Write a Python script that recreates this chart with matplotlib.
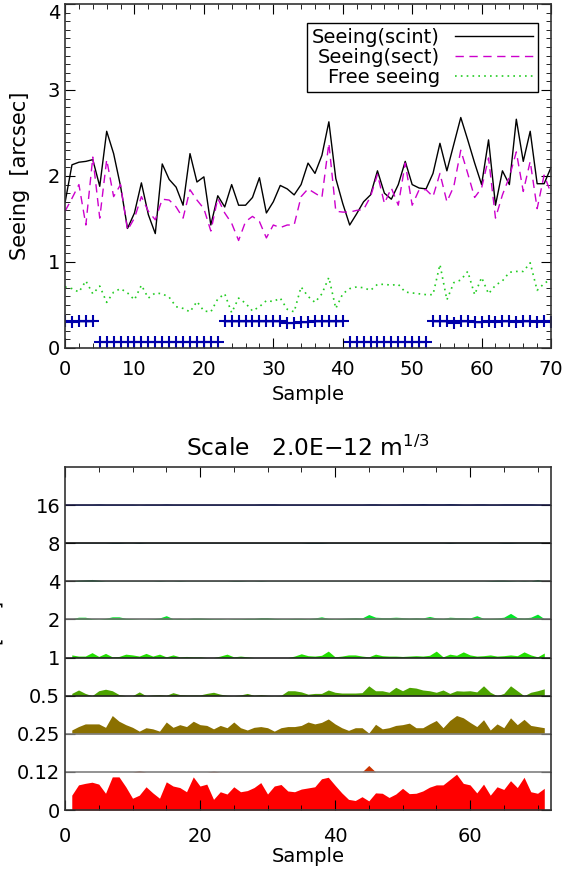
import matplotlib.pyplot as plt
import numpy as np
from matplotlib.ticker import MultipleLocator

plt.rcParams['font.family'] = ['DejaVu Sans']
plt.rcParams['font.size'] = 14

# ---- top panel data (sample 0..70) ----
samples = np.arange(71)
seeing_scint = [1.69, 2.13, 2.16, 2.17, 2.19, 1.88, 2.52, 2.26, 1.88, 1.39,
                1.57, 1.92, 1.55, 1.33, 2.14, 1.96, 1.87, 1.66, 2.26, 1.93,
                1.99, 1.43, 1.77, 1.64, 1.90, 1.66, 1.66, 1.75, 1.98, 1.57,
                1.70, 1.89, 1.85, 1.78, 1.90, 2.15, 2.03, 2.24, 2.63, 1.97,
                1.68, 1.43, 1.56, 1.70, 1.78, 2.06, 1.80, 1.73, 1.90, 2.17,
                1.90, 1.86, 1.85, 2.03, 2.38, 2.06, 2.37, 2.68, 2.42, 2.15,
                1.90, 2.42, 1.66, 2.06, 1.90, 2.66, 2.17, 2.52, 1.91, 1.91,
                2.10]
seeing_sect = [1.59, 1.74, 1.90, 1.43, 2.22, 1.51, 2.19, 1.76, 1.90, 1.37,
               1.51, 1.76, 1.59, 1.49, 1.73, 1.72, 1.64, 1.51, 1.84, 1.72,
               1.62, 1.36, 1.74, 1.57, 1.45, 1.25, 1.47, 1.53, 1.47, 1.28,
               1.43, 1.40, 1.43, 1.43, 1.76, 1.85, 1.80, 1.75, 2.38, 1.59,
               1.58, 1.58, 1.60, 1.61, 1.76, 2.02, 1.68, 1.86, 1.66, 2.15,
               1.66, 1.84, 1.84, 1.76, 2.03, 1.70, 1.88, 2.30, 2.03, 1.75,
               1.86, 2.21, 1.51, 1.78, 1.99, 2.28, 1.82, 2.17, 1.62, 2.01,
               1.80]
free_seeing = [0.71, 0.69, 0.65, 0.78, 0.63, 0.72, 0.53, 0.65, 0.69, 0.64,
               0.56, 0.73, 0.58, 0.64, 0.63, 0.59, 0.48, 0.46, 0.42, 0.54,
               0.43, 0.42, 0.57, 0.63, 0.41, 0.58, 0.52, 0.43, 0.48, 0.55,
               0.54, 0.58, 0.45, 0.42, 0.71, 0.60, 0.53, 0.63, 0.82, 0.46,
               0.63, 0.69, 0.71, 0.70, 0.67, 0.74, 0.74, 0.73, 0.74, 0.65,
               0.64, 0.63, 0.62, 0.62, 0.97, 0.56, 0.76, 0.79, 0.89, 0.62,
               0.82, 0.63, 0.73, 0.78, 0.88, 0.89, 0.89, 0.99, 0.67, 0.75,
               0.80]
flag = [0.31, 0.30, 0.31, 0.31, 0.31, 0.07, 0.07, 0.07, 0.07, 0.07,
        0.07, 0.07, 0.07, 0.07, 0.07, 0.07, 0.07, 0.07, 0.07, 0.07,
        0.07, 0.07, 0.07, 0.31, 0.31, 0.31, 0.31, 0.31, 0.31, 0.31,
        0.31, 0.31, 0.29, 0.29, 0.30, 0.30, 0.31, 0.31, 0.31, 0.31,
        0.31, 0.07, 0.07, 0.07, 0.07, 0.07, 0.07, 0.07, 0.07, 0.07,
        0.07, 0.07, 0.07, 0.31, 0.31, 0.31, 0.29, 0.31, 0.31, 0.30,
        0.30, 0.31, 0.30, 0.31, 0.31, 0.30, 0.31, 0.31, 0.30, 0.31,
        0.30]
seeing_ticks = [0, 1, 2, 3, 4]

# ---- bottom panel data (sample 1..71), one list per altitude layer ----
layer_labels = ['0', '0.12', '0.25', '0.5', '1', '2', '4', '8', '16']
layer_colors = ['#FF0000', '#CC3300', '#8B7000', '#4CA300', '#22E000',
                '#00E626', '#00A04E', '#006878', '#1848B0']
layer_lines = ['#222222', '#808080', '#808080', '#222222', '#222222',
               '#707070', '#404040', '#111111', '#1a1a40']
h00 = [0.39, 0.66, 0.70, 0.73, 0.68, 0.44, 0.87, 0.87, 0.61, 0.31,
       0.39, 0.61, 0.45, 0.31, 0.74, 0.63, 0.59, 0.48, 0.87, 0.63,
       0.68, 0.28, 0.48, 0.42, 0.61, 0.48, 0.51, 0.59, 0.72, 0.42,
       0.63, 0.67, 0.50, 0.48, 0.55, 0.58, 0.61, 0.82, 0.86, 0.65,
       0.45, 0.28, 0.25, 0.35, 0.24, 0.45, 0.44, 0.33, 0.42, 0.57,
       0.43, 0.44, 0.50, 0.60, 0.66, 0.66, 0.80, 0.94, 0.70, 0.66,
       0.45, 0.68, 0.39, 0.61, 0.54, 0.77, 0.59, 0.86, 0.48, 0.44,
       0.57]
h012 = [0.0, 0.0, 0.0, 0.0, 0.0, 0.0, 0.0, 0.0, 0.0, 0.0,
        0.03, 0.0, 0.0, 0.0, 0.0, 0.0, 0.0, 0.0, 0.0, 0.0,
        0.0, 0.02, 0.0, 0.0, 0.0, 0.0, 0.0, 0.0, 0.0, 0.0,
        0.0, 0.0, 0.0, 0.0, 0.0, 0.0, 0.0, 0.0, 0.0, 0.0,
        0.0, 0.0, 0.0, 0.0, 0.17, 0.0, 0.0, 0.0, 0.0, 0.0,
        0.0, 0.0, 0.0, 0.0, 0.0, 0.0, 0.0, 0.0, 0.0, 0.0,
        0.0, 0.0, 0.0, 0.0, 0.0, 0.0, 0.0, 0.0, 0.0, 0.0,
        0.0]
h025 = [0.10, 0.19, 0.26, 0.26, 0.26, 0.17, 0.48, 0.33, 0.24, 0.17,
        0.07, 0.16, 0.13, 0.07, 0.31, 0.17, 0.24, 0.19, 0.33, 0.24,
        0.22, 0.13, 0.22, 0.16, 0.31, 0.16, 0.10, 0.17, 0.19, 0.16,
        0.07, 0.16, 0.19, 0.19, 0.22, 0.31, 0.26, 0.30, 0.39, 0.26,
        0.16, 0.09, 0.16, 0.16, 0.02, 0.25, 0.13, 0.16, 0.22, 0.24,
        0.28, 0.16, 0.16, 0.26, 0.35, 0.16, 0.35, 0.48, 0.42, 0.30,
        0.19, 0.37, 0.10, 0.26, 0.16, 0.42, 0.24, 0.38, 0.22, 0.19,
        0.16]
h05 = [0.06, 0.15, 0.06, 0.00, 0.13, 0.17, 0.13, 0.03, 0.00, 0.00,
       0.10, 0.00, 0.02, 0.03, 0.01, 0.08, 0.03, 0.02, 0.02, 0.02,
       0.06, 0.09, 0.04, 0.01, 0.00, 0.02, 0.06, 0.01, 0.03, 0.01,
       0.00, 0.01, 0.13, 0.13, 0.10, 0.04, 0.06, 0.06, 0.15, 0.09,
       0.07, 0.07, 0.07, 0.08, 0.26, 0.13, 0.13, 0.09, 0.22, 0.13,
       0.22, 0.20, 0.15, 0.13, 0.09, 0.15, 0.06, 0.13, 0.12, 0.13,
       0.10, 0.26, 0.09, 0.00, 0.06, 0.26, 0.13, 0.00, 0.09, 0.13,
       0.18]
h1 = [0.07, 0.04, 0.04, 0.13, 0.03, 0.11, 0.02, 0.03, 0.09, 0.07,
      0.04, 0.11, 0.04, 0.09, 0.02, 0.07, 0.02, 0.03, 0.02, 0.02,
      0.00, 0.00, 0.04, 0.09, 0.02, 0.04, 0.02, 0.00, 0.00, 0.00,
      0.00, 0.00, 0.00, 0.04, 0.10, 0.05, 0.04, 0.06, 0.17, 0.02,
      0.04, 0.07, 0.07, 0.04, 0.02, 0.09, 0.05, 0.04, 0.04, 0.03,
      0.04, 0.05, 0.04, 0.06, 0.17, 0.02, 0.09, 0.06, 0.15, 0.07,
      0.04, 0.05, 0.07, 0.04, 0.05, 0.07, 0.05, 0.15, 0.07, 0.02,
      0.12]
h2 = [0.02, 0.06, 0.06, 0.02, 0.01, 0.03, 0.07, 0.07, 0.03, 0.02,
      0.01, 0.01, 0.02, 0.04, 0.10, 0.02, 0.03, 0.02, 0.04, 0.04,
      0.03, 0.02, 0.02, 0.01, 0.02, 0.02, 0.03, 0.03, 0.05, 0.05,
      0.03, 0.02, 0.02, 0.03, 0.03, 0.02, 0.04, 0.07, 0.03, 0.02,
      0.03, 0.04, 0.05, 0.04, 0.13, 0.06, 0.05, 0.05, 0.06, 0.05,
      0.04, 0.05, 0.04, 0.08, 0.04, 0.03, 0.06, 0.05, 0.05, 0.04,
      0.10, 0.03, 0.03, 0.04, 0.06, 0.16, 0.05, 0.04, 0.06, 0.14,
      0.02]
h4 = [0.01, 0.03, 0.04, 0.05, 0.03, 0.01, 0.01, 0.01, 0.01, 0.01,
      0.01, 0.01, 0.01, 0.02, 0.01, 0.01, 0.02, 0.01, 0.01, 0.01,
      0.01, 0.01, 0.01, 0.01, 0.02, 0.02, 0.01, 0.01, 0.02, 0.01,
      0.01, 0.01, 0.01, 0.01, 0.01, 0.01, 0.01, 0.01, 0.01, 0.01,
      0.01, 0.01, 0.01, 0.01, 0.01, 0.01, 0.01, 0.01, 0.01, 0.01,
      0.01, 0.01, 0.01, 0.01, 0.01, 0.01, 0.01, 0.01, 0.01, 0.01,
      0.01, 0.01, 0.02, 0.03, 0.03, 0.02, 0.01, 0.02, 0.01, 0.05,
      0.01]
h8 = [0.01, 0.01, 0.01, 0.01, 0.01, 0.01, 0.02, 0.02, 0.01, 0.01,
      0.02, 0.01, 0.01, 0.01, 0.01, 0.01, 0.01, 0.01, 0.01, 0.01,
      0.01, 0.01, 0.01, 0.01, 0.01, 0.01, 0.01, 0.01, 0.01, 0.01,
      0.01, 0.01, 0.01, 0.01, 0.01, 0.02, 0.02, 0.02, 0.01, 0.01,
      0.01, 0.01, 0.01, 0.01, 0.01, 0.01, 0.01, 0.01, 0.01, 0.01,
      0.01, 0.01, 0.01, 0.01, 0.01, 0.01, 0.02, 0.01, 0.01, 0.01,
      0.01, 0.01, 0.01, 0.01, 0.02, 0.02, 0.01, 0.01, 0.01, 0.01,
      0.01]
h16 = [0.02, 0.02, 0.02, 0.02, 0.03, 0.02, 0.02, 0.02, 0.02, 0.02,
       0.01, 0.02, 0.02, 0.02, 0.03, 0.02, 0.02, 0.02, 0.02, 0.02,
       0.02, 0.02, 0.02, 0.02, 0.02, 0.02, 0.02, 0.02, 0.03, 0.03,
       0.03, 0.02, 0.02, 0.02, 0.02, 0.02, 0.02, 0.02, 0.02, 0.02,
       0.02, 0.02, 0.02, 0.02, 0.03, 0.03, 0.02, 0.02, 0.02, 0.03,
       0.03, 0.03, 0.04, 0.03, 0.03, 0.03, 0.04, 0.03, 0.02, 0.02,
       0.03, 0.03, 0.02, 0.02, 0.03, 0.03, 0.03, 0.03, 0.03, 0.02,
       0.02]
layers = [h00, h012, h025, h05, h1, h2, h4, h8, h16]
layer_x = np.arange(1, 72)

fig = plt.figure(figsize=(5.77, 8.71), dpi=100)
ax1 = fig.add_axes([0.1127, 0.6005, 0.8423, 0.3949])
ax2 = fig.add_axes([0.1127, 0.0700, 0.8423, 0.3938])

# top panel
ax1.plot(samples, seeing_scint, color='black', lw=1, label='Seeing(scint)')
ax1.plot(samples, seeing_sect, color='#CC00CC', lw=1, dashes=(6, 4),
         label='Seeing(sect)')
ax1.plot(samples, free_seeing, color='#22CC22', lw=1.2, dashes=(1, 2.5),
         label='Free seeing')

flag_arr = np.array(flag)
breaks = np.where(np.abs(np.diff(flag_arr)) > 0.1)[0] + 1
for seg in np.split(samples, breaks):
    ax1.plot(seg, flag_arr[seg], color='#0000AA', lw=1.5, marker='+',
             ms=8, mew=1.5)

ax1.set_xlim(0, 70)
ax1.set_ylim(0, 4)
ax1.xaxis.set_major_locator(MultipleLocator(10))
ax1.xaxis.set_minor_locator(MultipleLocator(2))
ax1.set_yticks(seeing_ticks)
ax1.yaxis.set_minor_locator(MultipleLocator(0.1))
ax1.tick_params(which='both', direction='in', top=True, right=True)
ax1.tick_params(which='major', length=7)
ax1.tick_params(which='minor', length=3.5)
ax1.tick_params(axis='x', pad=9)
ax1.set_xlabel('Sample', labelpad=4)
ax1.set_ylabel('Seeing  [arcsec]', fontsize=15)
ax1.yaxis.set_label_coords(-0.072, 0.5)
# keep the top label inside the figure, as in the original
ax1.yaxis.get_major_ticks()[-1].label1.set_verticalalignment('top')

leg = ax1.legend(loc='upper right', bbox_to_anchor=(0.973, 0.945),
                 borderaxespad=0, markerfirst=False, fancybox=False,
                 edgecolor='black', framealpha=1, handlelength=4,
                 handletextpad=0.8, labelspacing=0.05, borderpad=0.25)
leg.get_frame().set_linewidth(1)

# bottom panel
for i, vals in enumerate(layers):
    ax2.fill_between(layer_x, i, i + np.array(vals), color=layer_colors[i],
                     lw=0)
    if i > 0:
        ax2.axhline(i, color=layer_lines[i], lw=1.2)

ax2.set_xlim(0, 72)
ax2.set_ylim(0, 9)
ax2.set_yticks(range(len(layer_labels)))
ax2.set_yticklabels(layer_labels)
ax2.xaxis.set_major_locator(MultipleLocator(20))
ax2.xaxis.set_minor_locator(MultipleLocator(5))
ax2.tick_params(which='both', direction='in', top=True, right=True)
ax2.tick_params(which='major', length=7)
ax2.tick_params(which='minor', length=3.5)
ax2.tick_params(axis='x', pad=12)
ax2.set_xlabel('Sample', labelpad=1)
ax2.set_title('Scale   2.0E\u221212 m$^{1/3}$', pad=8)
fig.text(-0.012, 1 - 621 / 871, '[km]', rotation=90, ha='center',
         va='center')

for ax in (ax1, ax2):
    for sp in ax.spines.values():
        sp.set_color('#333333')
        sp.set_linewidth(1.2)

fig.savefig('out.png', dpi=100)
